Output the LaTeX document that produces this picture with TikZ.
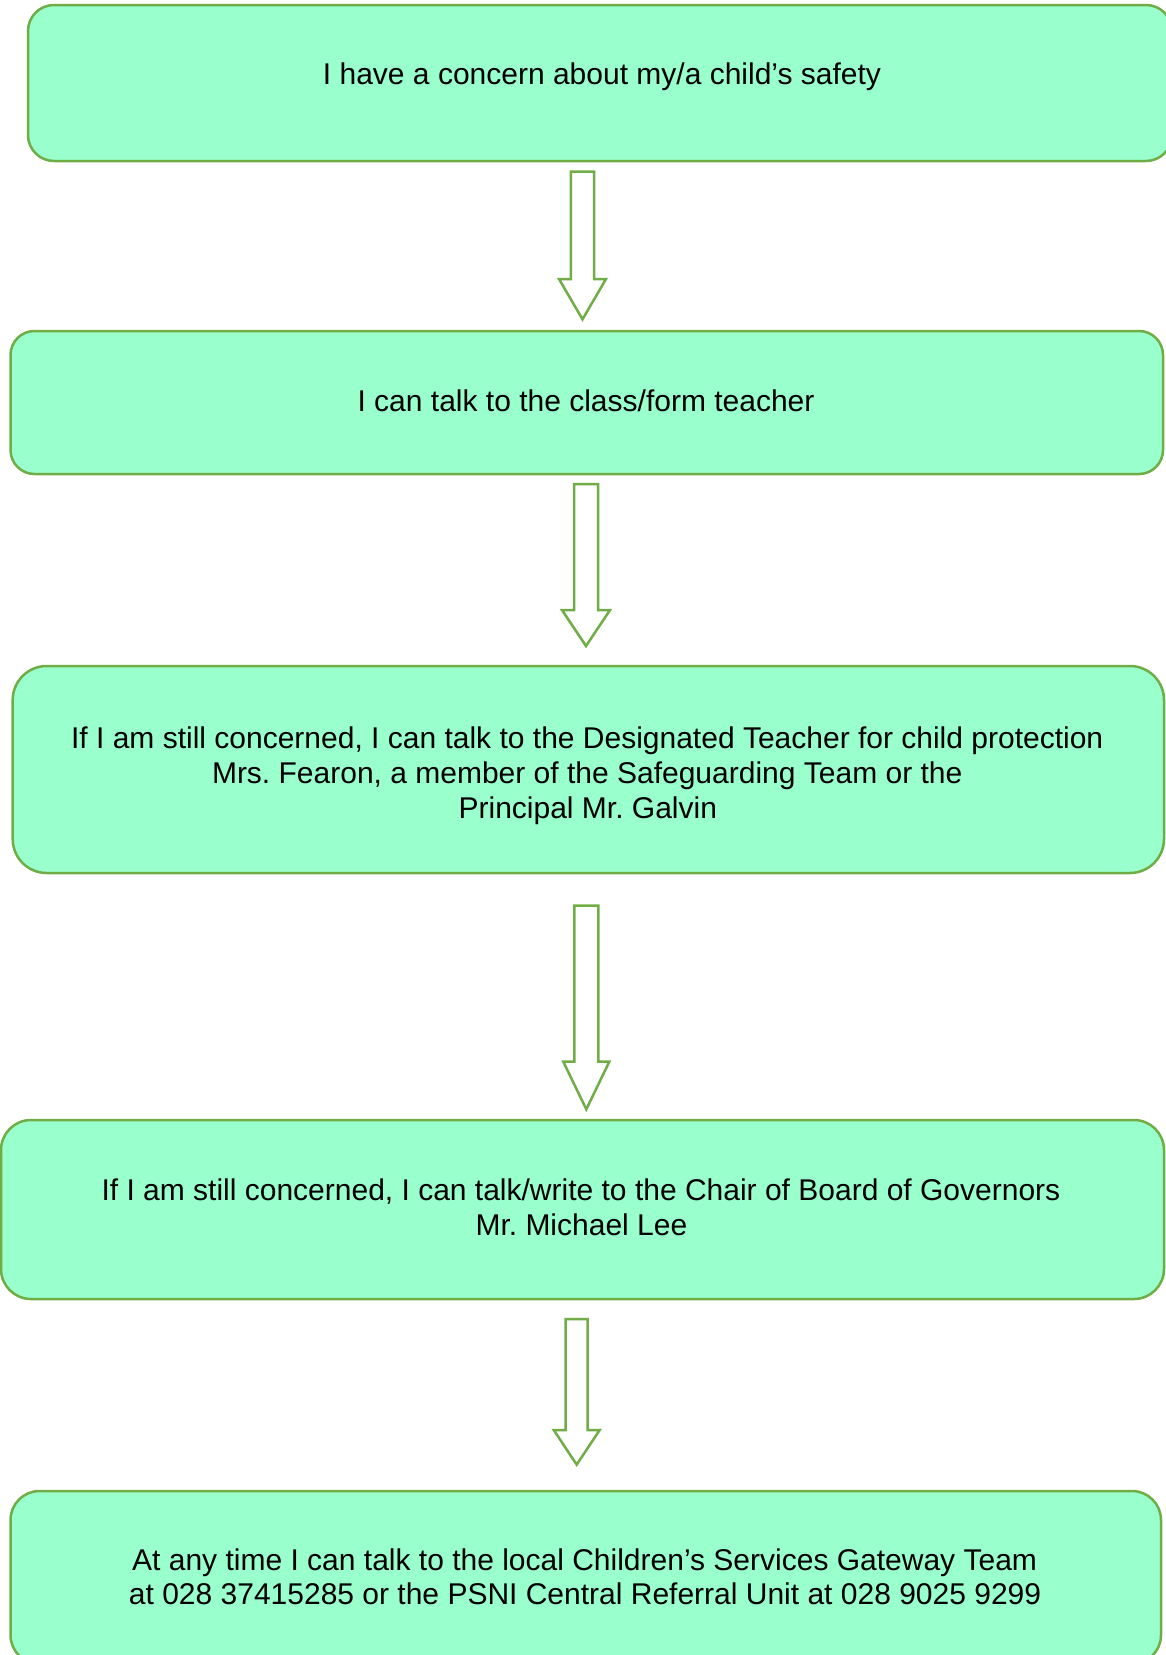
\documentclass[tikz,border=0pt]{standalone}
\usepackage{fontspec}
\setmainfont{Liberation Sans}
\frenchspacing
\definecolor{boxfill}{RGB}{153,255,204}
\definecolor{boxline}{RGB}{112,173,71}
\newcommand{\blockarrow}[6]{%
  % #1 centre x, #2 top y, #3 head start y, #4 tip y, #5 half shaft, #6 half head
  \draw[blockarr] (#1-#5,#2) -- (#1+#5,#2) -- (#1+#5,#3) -- (#1+#6,#3) -- (#1,#4)
    -- (#1-#6,#3) -- (#1-#5,#3) -- cycle;}
\begin{document}
\begin{tikzpicture}[x=1pt,y=-1pt,
  box/.style={draw=boxline, fill=boxfill, line width=2.5pt, inner sep=0pt, outer sep=0pt},
  blockarr/.style={draw=boxline, fill=white, line width=2.5pt, line join=miter},
  txt/.style={anchor=base, inner sep=0pt, font=\fontsize{30}{34.5}\selectfont}]
\useasboundingbox (0,0) rectangle (1166,1655);
\node[box, rounded corners=26pt, minimum width=1144pt, minimum height=156pt] (b1) at (600,83) {};
\node[box, rounded corners=24pt, minimum width=1152.5pt, minimum height=143pt] (b2) at (586.75,402.5) {};
\node[box, rounded corners=34pt, minimum width=1151.3pt, minimum height=207pt] (b3) at (588.35,769.5) {};
\node[box, rounded corners=30pt, minimum width=1163pt, minimum height=179pt] (b4) at (582.5,1209.5) {};
\node[box, rounded corners=29pt, minimum width=1150.5pt, minimum height=173pt] (b5) at (585.75,1577.5) {};

\node[txt] (t1) at (602,84.3) {I have a concern about my/a child’s safety};
\node[txt] (t2) at (586,411) {I can talk to the class/form teacher};
\node[txt] (t3a) at (587.2,748.3) {If I am still concerned, I can talk to the Designated Teacher for child protection};
\node[txt] (t3b) at (587.2,783.3) {Mrs. Fearon, a member of the Safeguarding Team or the};
\node[txt] (t3c) at (587.8,818.3) {Principal Mr. Galvin};
\node[txt] (t4a) at (580.9,1200.7) {If I am still concerned, I can talk/write to the Chair of Board of Governors};
\node[txt] (t4b) at (581.4,1235.5) {Mr. Michael Lee};
\node[txt] (t5a) at (584.6,1570.7) {At any time I can talk to the local Children’s Services Gateway Team};
\node[txt] (t5b) at (585.1,1604) {at 028 37415285 or the PSNI Central Referral Unit at 028 9025 9299};

\blockarrow{582.5}{171.7}{279}{319.3}{11.7}{23.5}
\blockarrow{586}{484}{610}{646}{12}{24}
\blockarrow{586.3}{905.7}{1061.7}{1109.3}{12}{23}
\blockarrow{576.7}{1319}{1430}{1464.6}{11}{23}
\end{tikzpicture}
\end{document}
